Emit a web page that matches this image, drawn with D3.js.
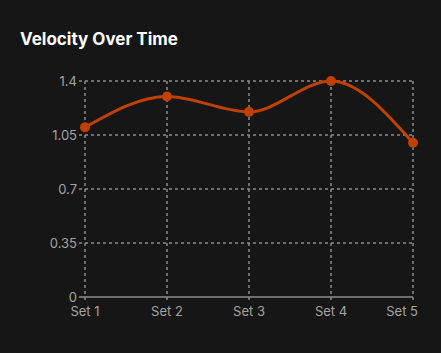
<!DOCTYPE html>
<html>
<head>
  <script src="https://d3js.org/d3.v7.min.js"></script>
  <style>
    html, body { margin: 0; padding: 0; background: #171717; }
    #card { width: 441px; height: 353px; background: #161616; border-radius: 14px; overflow: hidden; }
    text { font-family: Inter, "Noto Sans", sans-serif; }
  </style>
</head>
<body>
  <div id="card"></div>
  <script>
    var categories = ["Set 1", "Set 2", "Set 3", "Set 4", "Set 5"];
    var velocity = [1.1, 1.3, 1.2, 1.4, 1.0];
    var yTicks = [0, 0.35, 0.7, 1.05, 1.4];

    var width = 441, height = 353;
    var margin = { top: 81, right: 28, bottom: 56, left: 85 };

    var svg = d3.select("#card").append("svg")
      .attr("width", width)
      .attr("height", height);

    svg.append("text")
      .attr("x", 20)
      .attr("y", 45)
      .attr("fill", "#ffffff")
      .style("font-size", "17px")
      .style("font-weight", "700")
      .text("Velocity Over Time");

    var x = d3.scalePoint()
      .domain(categories)
      .range([margin.left, width - margin.right]);

    var y = d3.scaleLinear()
      .domain([0, 1.4])
      .range([height - margin.bottom, margin.top]);

    var gridColor = "#8c8c8c";

    // horizontal grid
    svg.append("g")
      .selectAll("line")
      .data(yTicks)
      .enter().append("line")
      .attr("x1", margin.left - 6)
      .attr("x2", width - margin.right)
      .attr("y1", function(d) { return y(d); })
      .attr("y2", function(d) { return y(d); })
      .attr("stroke", gridColor)
      .attr("stroke-width", 1.5)
      .attr("stroke-dasharray", function(d) { return d === 0 ? null : "3,3"; });

    // vertical grid
    svg.append("g")
      .selectAll("line")
      .data(categories)
      .enter().append("line")
      .attr("x1", function(d) { return x(d); })
      .attr("x2", function(d) { return x(d); })
      .attr("y1", margin.top)
      .attr("y2", height - margin.bottom + 5)
      .attr("stroke", gridColor)
      .attr("stroke-width", 1.5)
      .attr("stroke-dasharray", "3,3");

    // y labels
    svg.append("g")
      .selectAll("text")
      .data(yTicks)
      .enter().append("text")
      .attr("x", margin.left - 8)
      .attr("y", function(d) { return y(d); })
      .attr("dy", "0.35em")
      .attr("text-anchor", "end")
      .attr("fill", "#a3a3a3")
      .style("font-size", "13px")
      .text(function(d) { return d; });

    // x labels (last one kept inside the card edge)
    svg.append("g")
      .selectAll("text")
      .data(categories)
      .enter().append("text")
      .attr("x", function(d, i) { return i === categories.length - 1 ? x(d) + 5 : x(d); })
      .attr("y", height - margin.bottom + 19)
      .attr("text-anchor", function(d, i) { return i === categories.length - 1 ? "end" : "middle"; })
      .attr("fill", "#a3a3a3")
      .style("font-size", "13px")
      .text(function(d) { return d; });

    var line = d3.line()
      .x(function(d, i) { return x(categories[i]); })
      .y(function(d) { return y(d); })
      .curve(d3.curveMonotoneX);

    svg.append("path")
      .datum(velocity)
      .attr("d", line)
      .attr("fill", "none")
      .attr("stroke", "#c04000")
      .attr("stroke-width", 3);

    svg.append("g")
      .selectAll("circle")
      .data(velocity)
      .enter().append("circle")
      .attr("cx", function(d, i) { return x(categories[i]); })
      .attr("cy", function(d) { return y(d); })
      .attr("r", 5)
      .attr("fill", "#c04000");
  </script>
</body>
</html>
